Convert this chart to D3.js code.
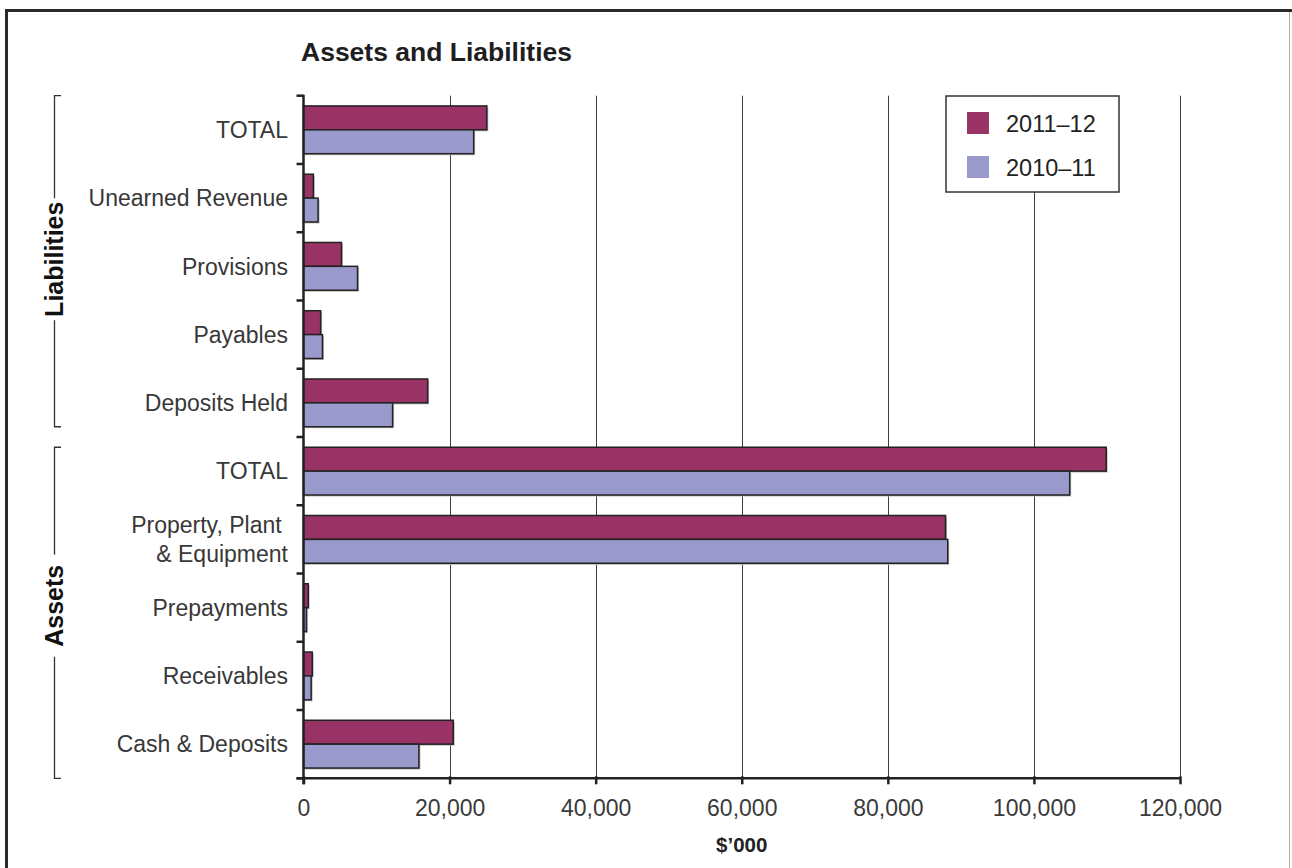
<!DOCTYPE html>
<html>
<head>
<meta charset="utf-8">
<script src="https://cdn.jsdelivr.net/npm/d3@7/dist/d3.min.js"></script>
<style>
  html, body { margin: 0; padding: 0; background: #fff; }
  svg { display: block; font-family: "Liberation Sans", Arial, Helvetica, sans-serif; }
</style>
</head>
<body>
<svg id="chart" width="1292" height="868"></svg>
<script>
// Category rows, top to bottom
const categoryLabels = [
  ["TOTAL"],
  ["Unearned Revenue"],
  ["Provisions"],
  ["Payables"],
  ["Deposits Held"],
  ["TOTAL"],
  ["Property, Plant\u00a0", "& Equipment"],
  ["Prepayments"],
  ["Receivables"],
  ["Cash & Deposits"]
];

// Values in $'000
const values2011 = [25100, 1350, 5200, 2350, 17000, 109900, 87900, 650, 1200, 20500];
const values2010 = [23300, 2000, 7400, 2600, 12200, 104900, 88200, 400, 1050, 15800];

const seriesNames = ["2011\u201312", "2010\u201311"];
const seriesColors = ["#993366", "#9999cc"];

const xTicks = [0, 20000, 40000, 60000, 80000, 100000, 120000];

// Group brackets on the left
const groupNames = ["Liabilities", "Assets"];
const groupFirst = [0, 5];
const groupLast = [4, 9];

const svg = d3.select("#chart");
const W = 1292, H = 868;

// Outer frame
svg.append("path").attr("d", `M6.5,${H + 2} V10.5 H${W}`)
  .attr("fill", "none").attr("stroke", "#2a2a2a").attr("stroke-width", 3);
svg.append("line").attr("x1", 1289.5).attr("x2", 1289.5).attr("y1", 12).attr("y2", H)
  .attr("stroke", "#b0b0b0").attr("stroke-width", 1);

const plot = { left: 303.5, right: 1180, top: 95.7, bottom: 778.3 };

const x = d3.scaleLinear().domain([0, 120000]).range([plot.left, plot.right]);
const y = d3.scaleBand().domain(d3.range(categoryLabels.length))
  .range([plot.top, plot.bottom]).paddingInner(0.3).paddingOuter(0.15);
const ySub = d3.scaleBand().domain([0, 1]).range([0, y.bandwidth()]);

// Title
svg.append("text").attr("x", 301).attr("y", 60.5)
  .attr("font-size", 26.5).attr("font-weight", "bold").attr("fill", "#1e1e1e")
  .text("Assets and Liabilities");

// Vertical gridlines
svg.append("g").selectAll("line").data(xTicks.slice(1)).join("line")
  .attr("x1", d => Math.round(x(d)) + 0.5).attr("x2", d => Math.round(x(d)) + 0.5)
  .attr("y1", plot.top).attr("y2", plot.bottom)
  .attr("stroke", "#3c3c3c").attr("stroke-width", 1);

// Bars
const seriesData = [values2011, values2010];
const barG = svg.append("g");
seriesData.forEach((vals, s) => {
  // soft shadow
  barG.append("g").selectAll("rect").data(vals).join("rect")
    .attr("x", x(0) + 1.5)
    .attr("y", (d, i) => y(i) + ySub(s) + 1.5)
    .attr("width", d => x(d) - x(0))
    .attr("height", ySub.bandwidth())
    .attr("fill", "#bdbdbd");
  barG.append("g").selectAll("rect").data(vals).join("rect")
    .attr("x", x(0))
    .attr("y", (d, i) => y(i) + ySub(s))
    .attr("width", d => x(d) - x(0))
    .attr("height", ySub.bandwidth())
    .attr("fill", seriesColors[s])
    .attr("stroke", "#222")
    .attr("stroke-width", 1.5);
});

// X axis
const xAxis = d3.axisBottom(x).tickValues(xTicks).tickSize(6).tickSizeOuter(0)
  .tickFormat(d3.format(","));
const gx = svg.append("g").attr("transform", `translate(0,${plot.bottom})`).call(xAxis);
gx.select(".domain").remove();
gx.append("line").attr("x1", plot.left - 7).attr("x2", plot.right + 1)
  .attr("stroke", "#222").attr("stroke-width", 2.5);
gx.selectAll(".tick line").attr("stroke", "#222").attr("stroke-width", 2.5).attr("y1", -2);
gx.selectAll(".tick text").attr("font-size", 23).attr("fill", "#3a3a3a")
  .attr("font-family", "\"Liberation Sans\", Arial, sans-serif")
  .attr("y", 21).attr("dy", "0.71em");

// Y axis with ticks at band boundaries
const boundaries = d3.range(categoryLabels.length + 1).map(i => plot.top + i * y.step());
const gy = svg.append("g");
gy.append("line").attr("x1", plot.left).attr("x2", plot.left)
  .attr("y1", plot.top - 1).attr("y2", plot.bottom + 6)
  .attr("stroke", "#222").attr("stroke-width", 2.5);
gy.selectAll("line.tk").data(boundaries).join("line").attr("class", "tk")
  .attr("x1", plot.left - 7).attr("x2", plot.left)
  .attr("y1", d => d).attr("y2", d => d)
  .attr("stroke", "#222").attr("stroke-width", 2.5);

// Category labels
const lab = svg.append("g").attr("font-size", 23).attr("fill", "#383838")
  .attr("text-anchor", "end");
categoryLabels.forEach((lines, i) => {
  const cy = y(i) + y.bandwidth() / 2;
  const t = lab.append("text").attr("x", 288).attr("y", cy)
    .attr("xml:space", "preserve");
  const lh = 28.5;
  lines.forEach((ln, k) => {
    t.append("tspan").attr("x", 288)
      .attr("y", cy + (k - (lines.length - 1) / 2) * lh)
      .attr("dy", "0.36em").text(ln);
  });
});

// Group brackets
groupNames.forEach((name, g) => {
  const top = g === 0 ? plot.top : y(groupFirst[g]);
  const bottom = g === 0 ? y(groupLast[g]) + y.bandwidth() : plot.bottom;
  const mid = g === 0 ? (top + bottom) / 2 - 2 : (top + bottom) / 2 - 7;
  const gap = g === 0 ? 61 : 51;
  const bx = 54.5;
  const gb = svg.append("g").attr("stroke", "#333").attr("stroke-width", 1.3).attr("fill", "none");
  gb.append("path").attr("d", `M61,${top} H${bx} V${mid - gap}`);
  gb.append("path").attr("d", `M61,${bottom} H${bx} V${mid + gap}`);
  svg.append("text")
    .attr("transform", `translate(${bx + 8},${mid}) rotate(-90)`)
    .attr("text-anchor", "middle")
    .attr("font-size", 25).attr("font-weight", "bold").attr("fill", "#111")
    .text(name);
});

// X axis title
svg.append("text").attr("x", (plot.left + plot.right) / 2).attr("y", 852)
  .attr("text-anchor", "middle").attr("font-size", 20.5).attr("font-weight", "bold")
  .attr("fill", "#222").text("$\u2019000");

// Legend
const lg = svg.append("g");
lg.append("rect").attr("x", 946).attr("y", 96).attr("width", 173).attr("height", 96)
  .attr("fill", "#fff").attr("stroke", "#333").attr("stroke-width", 1.5);
seriesNames.forEach((n, s) => {
  lg.append("rect").attr("x", 967).attr("y", 112 + s * 44).attr("width", 22).attr("height", 22)
    .attr("fill", seriesColors[s]);
  lg.append("text").attr("x", 1006).attr("y", 132.3 + s * 44)
    .attr("font-size", 23.5).attr("fill", "#222").text(n);
});
</script>
</body>
</html>
